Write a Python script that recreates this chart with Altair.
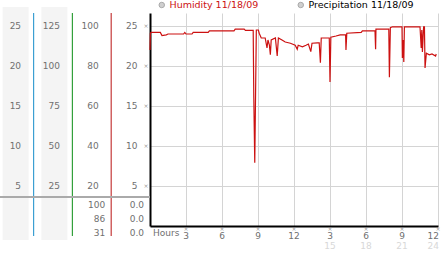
import altair as alt
import pandas as pd

# ---------------- data ----------------
HOURS = [0.0, 0.03, 0.1, 0.86, 1.0, 1.36, 1.5, 2.8, 2.9, 3.0, 3.5, 3.6, 4.85, 4.95,
         7.0, 7.1, 7.85, 7.95, 8.6, 8.65, 8.73, 8.86, 9.03, 9.1, 9.27, 9.6, 9.75,
         9.83, 9.95, 10.03, 10.1, 10.45, 10.6, 10.7, 11.0, 11.27, 11.7, 12.1, 12.27,
         12.35, 12.7, 13.0, 13.2, 13.4, 13.5, 13.95, 14.1, 14.2, 14.27, 14.94, 15.0,
         15.07, 15.5, 15.85, 16.3, 16.33, 16.4, 17.6, 17.7, 18.75, 18.8, 18.83, 19.9,
         19.95, 20.03, 20.2, 21.0, 21.03, 21.1, 21.15, 21.2, 22.5, 22.6, 22.65, 22.7,
         22.8, 22.87, 22.92, 23.03, 23.28, 23.5, 23.8, 23.85]
HUMIDITY = [22.0, 24.1, 24.2, 24.2, 23.8, 23.9, 24.0, 24.0, 24.2, 24.0, 24.0, 24.2, 24.2, 24.4,
            24.4, 24.6, 24.6, 24.45, 24.45, 16.1, 7.9, 24.5, 24.5, 24.1, 23.5, 23.5, 22.25,
            23.25, 22.6, 21.4, 23.25, 23.5, 21.25, 23.5, 23.25, 23.0, 22.85, 22.6, 22.1,
            22.6, 22.4, 22.6, 22.75, 21.8, 22.85, 22.9, 22.9, 20.4, 23.5, 23.5, 18.0,
            23.6, 23.75, 23.9, 23.9, 22.0, 24.1, 24.2, 24.4, 24.4, 22.1, 24.6, 24.6,
            18.6, 24.8, 24.9, 24.9, 21.0, 23.25, 20.5, 24.9, 24.9, 22.25, 24.5, 21.75,
            24.9, 24.9, 19.75, 21.6, 21.4, 21.5, 21.25, 21.5]

SERIES = ["Humidity 11/18/09", "Precipitation 11/18/09"]

TICK_POS = [25, 20, 15, 10, 5]
COL1_LABELS = ["25", "20", "15", "10", "5"]
COL2_LABELS = ["125", "100", "75", "50", "25"]
COL3_LABELS = ["100", "80", "60", "40", "20"]
COL4_LABELS = ["25", "20", "15", "10", "5"]

TABLE_COL3 = ["100", "86", "31"]
TABLE_COL4 = ["0.0", "0.0", "0.0"]

X_TICKS = [3, 6, 9, 12, 15, 18, 21, 24]
X_LABELS_12H = ["3", "6", "9", "12", "3", "6", "9", "12"]
X_LABELS_24H = ["", "", "", "", "15", "18", "21", "24"]
X_TITLE = "Hours"

COLUMN_COLORS = ["#3c9fd2", "#34a03c", "#c53a3a"]

# ---------------- layout / style ----------------
W, H = 288, 213
Y_MAX = 26.625
FONT = "DejaVu Sans"
GREY_TXT = "#707070"
RED = "#cc1111"
GRID = "#d4d4d4"

xs = alt.Scale(domain=[0, 24], nice=False, zero=False)
ys = alt.Scale(domain=[0, Y_MAX], nice=False, zero=False)

line_df = pd.DataFrame({"hour": HOURS, "humidity": HUMIDITY})
xt_df = pd.DataFrame({"hour": X_TICKS, "lab12": X_LABELS_12H, "lab24": X_LABELS_24H})
yt_df = pd.DataFrame({"pos": TICK_POS})

line = alt.Chart(line_df).mark_line(color=RED, strokeWidth=1.2).encode(
    x=alt.X("hour:Q", scale=xs,
            axis=alt.Axis(values=X_TICKS, labels=False, ticks=False, title=None,
                          domainColor="black", domainWidth=2, grid=True,
                          gridColor=GRID, gridWidth=1)),
    y=alt.Y("humidity:Q", scale=ys,
            axis=alt.Axis(values=TICK_POS, labels=False, ticks=False, title=None,
                          domainColor="black", domainWidth=2, grid=True,
                          gridColor=GRID, gridWidth=1)),
)

base_y = alt.YDatum(0, type="quantitative", scale=ys)
inner = "datum.hour < 24"
last = "datum.hour >= 24"

x_marks = alt.Chart(xt_df).mark_text(text="×", fontSize=6, color="#999999", dy=2.5,
                                     baseline="middle", font=FONT).encode(
    x=alt.X("hour:Q", scale=xs), y=base_y)
x_lab1 = alt.Chart(xt_df).transform_filter(inner).mark_text(
    fontSize=9, color=GREY_TXT, dy=10, baseline="middle", font=FONT).encode(
    x=alt.X("hour:Q", scale=xs), y=base_y, text="lab12:N")
x_lab1_end = alt.Chart(xt_df).transform_filter(last).mark_text(
    fontSize=9, color=GREY_TXT, dy=10, dx=1, align="right", baseline="middle", font=FONT).encode(
    x=alt.X("hour:Q", scale=xs), y=base_y, text="lab12:N")
x_lab2 = alt.Chart(xt_df).transform_filter(inner).mark_text(
    fontSize=9, color="#d8d8d8", dy=19.5, baseline="middle", font=FONT).encode(
    x=alt.X("hour:Q", scale=xs), y=base_y, text="lab24:N")
x_lab2_end = alt.Chart(xt_df).transform_filter(last).mark_text(
    fontSize=9, color="#d8d8d8", dy=19.5, dx=1, align="right", baseline="middle", font=FONT).encode(
    x=alt.X("hour:Q", scale=xs), y=base_y, text="lab24:N")
hours_lbl = alt.Chart(pd.DataFrame({"t": [X_TITLE]})).mark_text(
    fontSize=9, color=GREY_TXT, dx=3, dy=6.5, align="left", baseline="middle", font=FONT
).encode(x=alt.XDatum(0, type="quantitative", scale=xs), y=base_y, text="t:N")
y_marks = alt.Chart(yt_df).mark_text(text="×", fontSize=6, color="#999999", dx=-4,
                                     baseline="middle", font=FONT).encode(
    x=alt.XDatum(0, type="quantitative", scale=xs), y=alt.Y("pos:Q", scale=ys))

legend_layer = alt.Chart(pd.DataFrame({"series": pd.Series([], dtype=str)})).mark_point(
    filled=True, shape="circle").encode(
    fill=alt.Fill("series:N",
                  scale=alt.Scale(domain=SERIES, range=["#bbbbbb", "#bbbbbb"]),
                  legend=alt.Legend(orient="none", legendX=7, legendY=-13,
                                    direction="horizontal", title=None,
                                    symbolType="circle", symbolSize=30,
                                    symbolStrokeColor="#888888", symbolStrokeWidth=1,
                                    labelFont=FONT, labelFontSize=9.5,
                                    labelOffset=3, columnPadding=37,
                                    labelColor=alt.ExprRef(
                                        expr="datum.label === 'Humidity 11/18/09' ? '#cc1111' : '#000000'"))))

main = alt.layer(line, x_marks, x_lab1, x_lab1_end, x_lab2, x_lab2_end,
                 hours_lbl, y_marks, legend_layer)

# ---------------- left label columns ----------------
lx = alt.Scale(domain=[0, 4], range=[-155.2, 0], nice=False, zero=False)
ly = alt.Scale(domain=[0, Y_MAX], nice=False, zero=False)

bg_df = pd.DataFrame({"k": [1, 2]})
rule_df = pd.DataFrame({"k": [1, 2, 3], "c": COLUMN_COLORS})
rows = []
for k, labs in enumerate([COL1_LABELS, COL2_LABELS, COL3_LABELS, COL4_LABELS], start=1):
    for p, lab in zip(TICK_POS, labs):
        rows.append({"k": k, "pos": p, "label": lab})
lab_df = pd.DataFrame(rows)
trows = []
for k, labs in [(3, TABLE_COL3), (4, TABLE_COL4)]:
    for i, lab in enumerate(labs):
        trows.append({"k": k, "row": i, "label": lab})
tab_df = pd.DataFrame(trows)

ytop = alt.YDatum(Y_MAX, type="quantitative", scale=ly, axis=None)
ybot = alt.Y2Datum(0)

bg = alt.Chart(bg_df).mark_rect(color="#f4f4f4", xOffset=-31, x2Offset=-5,
                                yOffset=-6, y2Offset=14).encode(
    x=alt.X("k:Q", scale=lx, axis=None), x2="k:Q", y=ytop, y2=ybot)
rules = alt.Chart(rule_df).mark_rule(strokeWidth=1.2, y2Offset=10).encode(
    x=alt.X("k:Q", scale=lx, axis=None), y=ytop, y2=ybot,
    color=alt.Color("c:N", scale=None))
sep = alt.Chart(pd.DataFrame({"a": [0], "b": [4]})).mark_rule(
    strokeWidth=2, color="#aaaaaa", yOffset=-29).encode(
    x=alt.X("a:Q", scale=lx, axis=None), x2="b:Q",
    y=alt.YDatum(0, type="quantitative", scale=ly, axis=None))
labels = alt.Chart(lab_df).mark_text(align="right", baseline="middle", dx=-12.5,
                                     font=FONT, fontSize=9, color=GREY_TXT).encode(
    x=alt.X("k:Q", scale=lx, axis=None),
    y=alt.Y("pos:Q", scale=ly, axis=None), text="label:N")
table = alt.Chart(tab_df).mark_text(align="right", baseline="middle", dx=-6,
                                    font=FONT, fontSize=9, color=GREY_TXT).encode(
    x=alt.X("k:Q", scale=lx, axis=None),
    y=alt.Y("row:O", scale=alt.Scale(type="point", domain=[0, 1, 2],
                                     range=[192, 220], padding=0), axis=None),
    text="label:N")

left = alt.layer(alt.layer(bg, rules, sep, labels), table).resolve_scale(y="independent")

chart = alt.layer(left, main).resolve_scale(
    x="independent", y="independent", fill="independent"
).properties(
    width=W, height=H,
    padding={"left": 150, "top": 13, "right": 4, "bottom": 27},
    autosize=alt.AutoSizeParams(type="none"),
).configure_view(stroke=None)

chart.save("out.html", embed_options={"renderer": "svg", "actions": False})
